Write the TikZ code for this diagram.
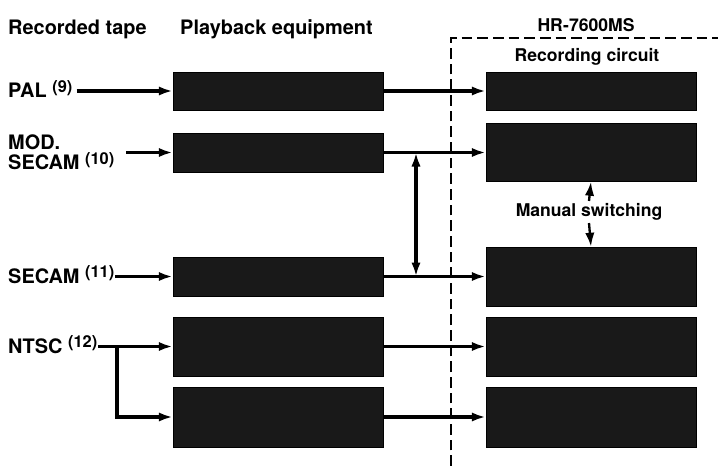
\documentclass[tikz,border=0pt]{standalone}
\usepackage{fontspec}
\setmainfont{TeX Gyre Heros}
\usepackage{tikz}
\usetikzlibrary{positioning,arrows.meta}
\newcommand{\tapenum}[1]{\raisebox{.5ex}{\fontsize{14}{14}\selectfont(#1)}}

\begin{document}
\begin{tikzpicture}[x=0.3mm,y=-0.3mm,font=\bfseries\fontsize{17}{17.5}\selectfont,
    blk/.style={draw=black, fill=black!90, minimum width=63mm, inner sep=0pt},
    sig/.style={line width=1.05mm, -{Latex[length=4.2mm,width=2.8mm]}},
    lbl/.style={anchor=west, inner sep=0pt, align=left},
    hdr/.style={inner sep=0pt, font=\bfseries\fontsize{17}{18}\selectfont},
    sub/.style={inner sep=1pt, font=\bfseries\fontsize{15}{16}\selectfont}]
    \useasboundingbox (0,0) rectangle (718,466);
    % headers
    \node[hdr, anchor=west] (hdtape) at (8,29) {Recorded tape};
    \node[hdr, anchor=west] (hdplay) at (180,29) {Playback equipment};
    \node[sub] (hdvcr) at (586,25) {HR-7600MS};
    \node[sub] (hdrec) at (587,57) {Recording circuit};
    \draw[line width=0.75mm, dash pattern=on 3.2mm off 1.5mm] (451,466) -- (451,38) -- (718,38);
    % playback equipment
    \node[blk, minimum height=11.4mm] (pbpal) at (278,91) {};
    \node[blk, minimum height=11.7mm] (pbmod) at (278,152.5) {};
    \node[blk, minimum height=11.7mm] (pbsec) at (278,276.5) {};
    \node[blk, minimum height=17.7mm] (pbnta) at (278,346.5) {};
    \node[blk, minimum height=18mm] (pbntb) at (278,417) {};
    % recording circuits
    \node[blk, minimum height=11.4mm] (rcpal) at (591,91) {};
    \node[blk, minimum height=17.4mm] (rcmod) at (591,152.5) {};
    \node[blk, minimum height=17.7mm] (rcsec) at (591,276.5) {};
    \node[blk, minimum height=17.7mm] (rcnta) at (591,346.5) {};
    \node[blk, minimum height=18mm] (rcntb) at (591,417) {};
    % tapes
    \node[lbl] (pal) at (8,89) {PAL \tapenum{9}};
    \node[lbl] (mod) at (8,152) {MOD.\\SECAM \tapenum{10}};
    \node[lbl] (sec) at (8,274.5) {SECAM \tapenum{11}};
    \node[lbl] (ntsc) at (8,344.5) {NTSC \tapenum{12}};
    \node[sub, inner sep=2pt] (man) at (589,212) {Manual switching};
    \coordinate (split) at (117,346.5);
    \coordinate (jmod) at (416,152.5);
    \coordinate (jsec) at (416,276.5);
    % signal paths
    \draw[sig] ([xshift=1.2mm]pal.east |- pbpal.west) -- (pbpal.west);
    \draw[sig] ([xshift=3.5mm]mod.east |- pbmod.west) -- (pbmod.west);
    \draw[sig] ([xshift=0.3mm]sec.east |- pbsec.west) -- (pbsec.west);
    \draw[sig] ([xshift=0.3mm]ntsc.east |- pbnta.west) -- (pbnta.west);
    \draw[sig] (split) |- (pbntb.west);
    \draw[sig] (pbpal) -- (rcpal);
    \draw[sig] (pbmod) -- (rcmod);
    \draw[sig] (pbsec) -- (rcsec);
    \draw[sig] (pbnta) -- (rcnta);
    \draw[sig] (pbntb) -- (rcntb);
    \draw[sig, {Latex[length=4.2mm,width=2.8mm]}-{Latex[length=4.2mm,width=2.8mm]}] (jmod) -- (jsec);
    \draw[sig, line width=0.7mm] (man.north) -- (rcmod.south);
    \draw[sig, line width=0.7mm] (man.south) -- (rcsec.north);
  \end{tikzpicture}
\end{document}
